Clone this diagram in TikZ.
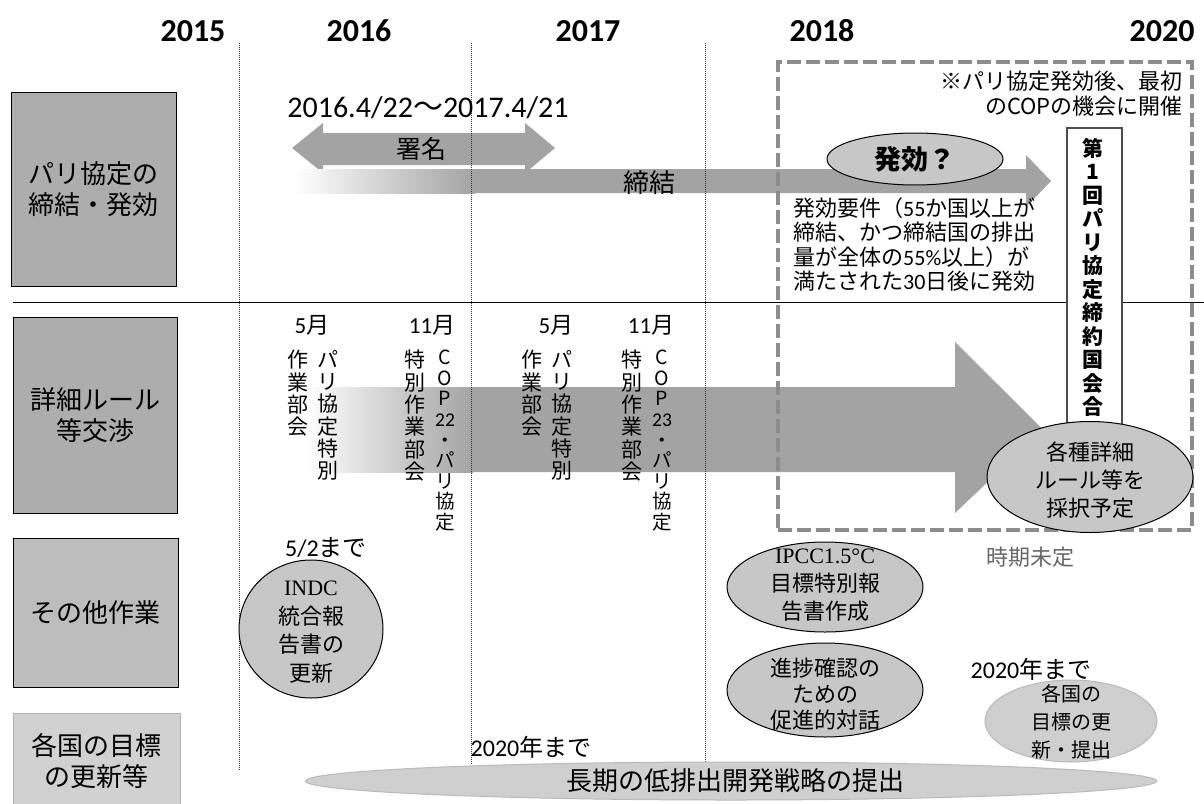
\documentclass[tikz,border=0pt]{standalone}
\usepackage{fontspec}
\setmainfont{Noto Sans CJK JP}
\newfontfamily\jpfont{Noto Sans CJK JP}
\newfontfamily\calfont{Carlito}
\newfontfamily\serfont{Liberation Serif}
\usetikzlibrary{shapes.geometric}
\definecolor{boxA}{gray}{0.68}
\definecolor{boxC}{gray}{0.74}
\definecolor{boxD}{gray}{0.82}
\definecolor{arr}{gray}{0.64}
\definecolor{ell}{gray}{0.78}
\definecolor{dashc}{gray}{0.55}
\tikzset{
  labelbox/.style={draw=black, line width=1pt, fill=boxA, inner sep=0, align=center,
    font=\fontsize{26}{31}\selectfont},
  yearlbl/.style={inner sep=0, font=\calfont\bfseries\fontsize{32}{32}\selectfont},
  plain/.style={inner sep=0, align=center},
  vcol/.style={inner sep=0, align=center, anchor=north, font=\fontsize{21}{22.3}\selectfont},
  vcop/.style={inner sep=0, align=center, anchor=north, font=\fontsize{19.5}{20.6}\selectfont},
  vline/.style={line width=0.9pt, dash pattern=on 1pt off 1pt, black!80},
  ellnode/.style={ellipse, draw=black, line width=1pt, fill=ell, inner sep=0},
  softell/.style={ellipse, draw=gray!55, line width=1pt, fill=ell!85!white, inner sep=0},
  arrowfill/.style={fill=arr, draw=none},
}
\begin{document}
\begin{tikzpicture}[x=1pt,y=-1pt]
\useasboundingbox (0,0) rectangle (1204,803);
\fill[white] (0,0) rectangle (1204,803);

% row label boxes
\node[labelbox, minimum width=165pt, minimum height=194pt] (b1) at (93.5,189) {パリ協定の\\締結・発効};
\node[labelbox, minimum width=164pt, minimum height=196pt] (b2) at (95,415) {詳細ルール\\等交渉};
\node[labelbox, fill=boxC, minimum width=165pt, minimum height=149pt] (b3) at (95.5,612.5) {その他作業};
\node[labelbox, fill=boxD, draw=gray!60, minimum width=167pt, minimum height=96pt] (b4) at (96.5,761) {各国の目標\\の更新等};

% years
\node[yearlbl] (y15) at (193,31) {2015};
\node[yearlbl] (y16) at (359,31) {2016};
\node[yearlbl] (y17) at (588,31) {2017};
\node[yearlbl] (y18) at (822,31) {2018};
\node[yearlbl] (y20) at (1162,31) {2020};

% horizontal separator
\coordinate (hs1) at (13,302);
\coordinate (hs2) at (1204,302);
\draw[line width=0.9pt] (hs1) -- (hs2);

% signature double arrow
\fill[arrowfill] (292,148) -- (323,123) -- (323,133) -- (525,133) -- (525,123) -- (555,148)
  -- (525,173) -- (525,165) -- (323,165) -- (323,173) -- cycle;
% conclusion arrow
\fill[arrowfill] (295,169) -- (1026,169) -- (1026,155) -- (1051,181) -- (1026,207) -- (1026,193) -- (295,193) -- cycle;
\shade[left color=white, right color=arr] (295,169) rectangle (475,193);
% negotiation big arrow
\fill[arrowfill] (305,387) -- (955,387) -- (955,342) -- (1043,429.5) -- (955,513) -- (955,472) -- (305,472) -- cycle;
\shade[left color=white, right color=arr] (305,387) rectangle (473,472);

% dotted year separators
\coordinate (d1t) at (239,43); \coordinate (d1b) at (239,770);
\coordinate (d2t) at (471,43); \coordinate (d2b) at (471,764);
\coordinate (d3t) at (705,43); \coordinate (d3b) at (705,764);
\draw[vline] (d1t) -- (d1b);
\draw[vline] (d2t) -- (d2b);
\draw[vline] (d3t) -- (d3b);

% row 1 texts
\node[plain, font=\calfont\fontsize{30}{30}\selectfont] (date) at (428,108) {2016.4/22{\jpfont 〜}2017.4/21};
\node[plain, font=\fontsize{25}{25}\selectfont] (sig) at (421,149) {署名};
\node[plain, font=\fontsize{26}{26}\selectfont] (conc) at (649,183) {締結};

% month labels
\node[plain, font=\fontsize{23}{23}\selectfont] (m1) at (312,325) {{\calfont 5}月};
\node[plain, font=\fontsize{23}{23}\selectfont] (m2) at (432,325) {{\calfont 11}月};
\node[plain, font=\fontsize{23}{23}\selectfont] (m3) at (556,325) {{\calfont 5}月};
\node[plain, font=\fontsize{23}{23}\selectfont] (m4) at (651,325) {{\calfont 11}月};

% vertical columns
\node[vcol] (c1a) at (328,350) {パ\\リ\\協\\定\\特\\別};
\node[vcol] (c1b) at (298,350) {作\\業\\部\\会};
\node[vcop] (c2a) at (445,350) {C\\O\\P\\{\calfont 22}\\・\\パ\\リ\\協\\定};
\node[vcol] (c2b) at (415,350) {特\\別\\作\\業\\部\\会};
\node[vcol] (c3a) at (562,350) {パ\\リ\\協\\定\\特\\別};
\node[vcol] (c3b) at (532,350) {作\\業\\部\\会};
\node[vcop] (c4a) at (662,350) {C\\O\\P\\{\calfont 23}\\・\\パ\\リ\\協\\定};
\node[vcol] (c4b) at (632,350) {特\\別\\作\\業\\部\\会};

% dashed frame
\node[draw=dashc, line width=4pt, dash pattern=on 14pt off 5pt, minimum width=414pt, minimum height=468pt,
  anchor=north west, inner sep=0] (dbox) at (776,60) {};
\node[plain, align=right, anchor=north east, font=\fontsize{22}{25}\selectfont] (note) at (1183,71)
  {※パリ協定発効後、最初\\のCOPの機会に開催};
% first meeting box
\node[draw=gray!60!black, line width=1.5pt, fill=white, minimum width=55pt, minimum height=300pt,
  anchor=north west, inner sep=0] (mbox) at (1066,127) {};
\node[vcol, font=\bfseries\fontsize{21}{23.5}\selectfont] (mtxt) at (1093,138)
  {第\\1\\回\\パ\\リ\\協\\定\\締\\約\\国\\会\\合};

% entry into force
\node[ellnode, minimum width=176pt, minimum height=52pt] (eff) at (915,159) {};
\node[plain, font=\bfseries\fontsize{27}{27}\selectfont] (efft) at (eff) {発効？};
\node[plain, align=left, anchor=north west, font=\fontsize{22}{24.5}\selectfont] (req) at (793,197)
  {発効要件（{\calfont 55}か国以上が\\締結、かつ締結国の排出\\量が全体の{\calfont 55\%}以上）が\\満たされた{\calfont 30}日後に発効};

% adopt rules ellipse
\node[ellnode, minimum width=206pt, minimum height=111pt] (adopt) at (1090,477) {};
\node[plain, font=\fontsize{22}{28}\selectfont] (adoptt) at (1090,480) {各種詳細\\ルール等を\\採択予定};
\node[plain, text=black!60, font=\fontsize{22}{22}\selectfont] (undec) at (1030,557) {時期未定};

% other work
\node[plain, font=\fontsize{24}{24}\selectfont] (by52) at (326,548) {{\calfont 5/2}まで};
\node[ellnode, minimum width=144pt, minimum height=138pt] (indc) at (311,629) {};
\node[plain, font=\fontsize{22}{28.5}\selectfont] (indct) at (311,632) {{\serfont INDC}\\統合報\\告書の\\更新};
\node[ellnode, minimum width=196pt, minimum height=90pt] (ipcc) at (825,587) {};
\node[plain, font=\fontsize{22}{28}\selectfont] (ipcct) at (825,585) {{\serfont IPCC1.5°C}\\目標特別報\\告書作成};
\node[ellnode, minimum width=196pt, minimum height=94pt] (dial) at (825,690) {};
\node[plain, font=\fontsize{22}{26}\selectfont] (dialt) at (825,694) {進捗確認の\\ための\\促進的対話};

% targets
\node[softell, minimum width=172pt, minimum height=82pt] (upd) at (1071,721) {};
\node[plain, font=\fontsize{24}{24}\selectfont] (by20r) at (1031,669) {{\calfont 2020}年まで};
\node[plain, font=\fontsize{20}{28}\selectfont] (updt) at (1071,722) {各国の\\目標の更\\新・提出};
\node[plain, font=\fontsize{24}{24}\selectfont] (by20l) at (531,747) {{\calfont 2020}年まで};
\node[softell, minimum width=851pt, minimum height=38pt] (lts) at (731,781) {};
\node[plain, font=\fontsize{26}{26}\selectfont] (ltst) at (735,781) {長期の低排出開発戦略の提出};
\end{tikzpicture}
\end{document}
